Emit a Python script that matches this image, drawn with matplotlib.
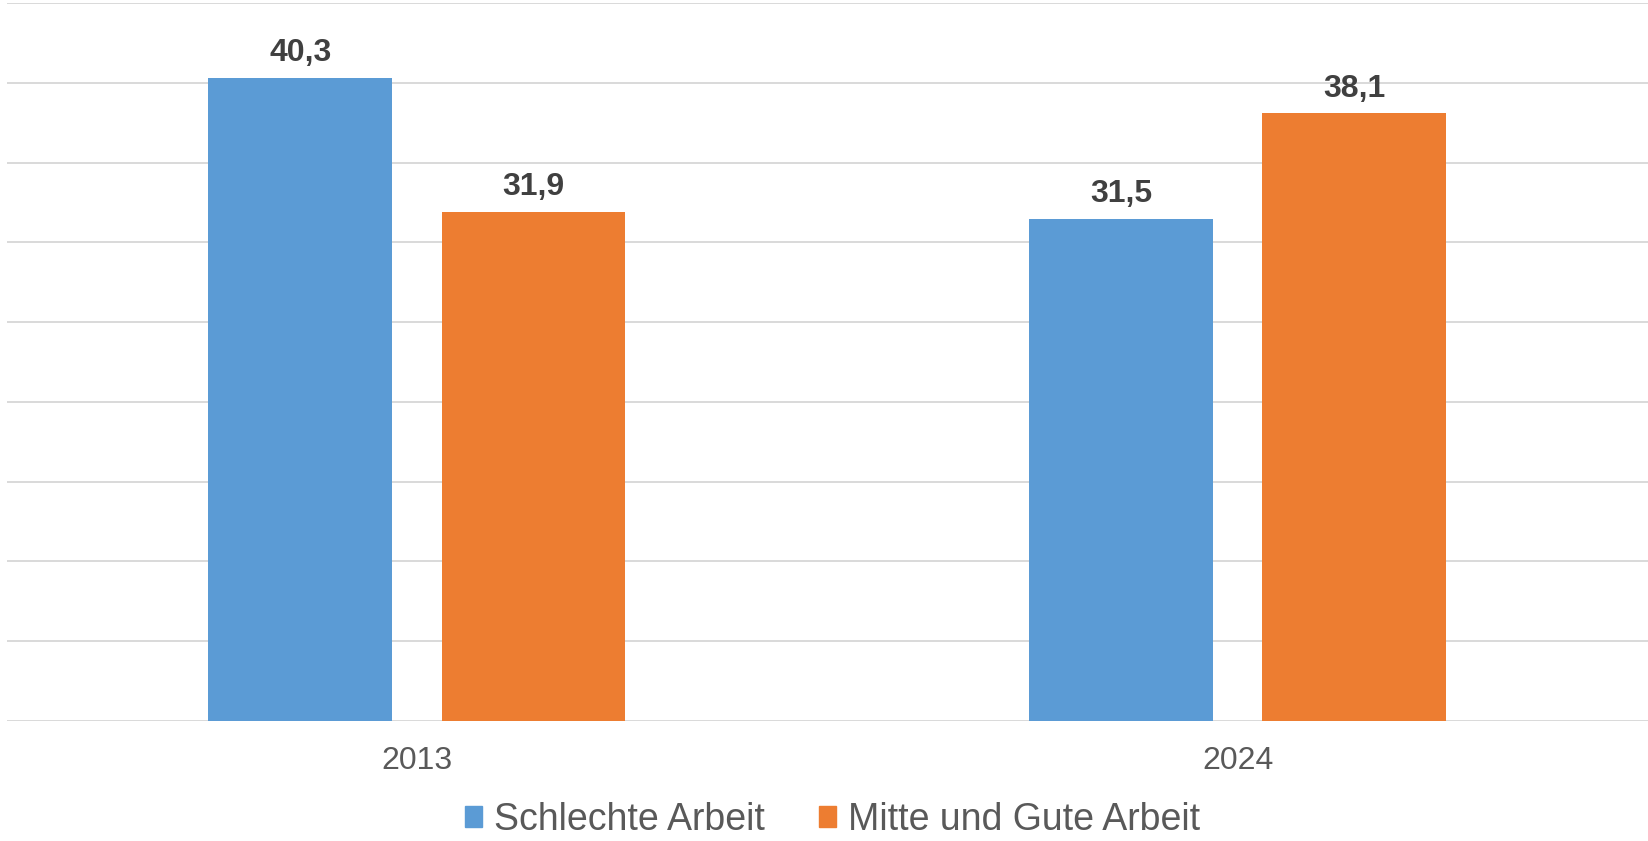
import matplotlib
matplotlib.use('Agg')
import matplotlib.pyplot as plt
from matplotlib.patches import Patch
import numpy as np

plt.rcParams['font.family'] = ['Liberation Sans', 'DejaVu Sans']

# Werte je Jahr
jahre = ['2013', '2024']
schlechte_arbeit = [40.3, 31.5]
mitte_gute_arbeit = [31.9, 38.1]
serien = ['Schlechte Arbeit', 'Mitte und Gute Arbeit']
farben = ['#5B9BD5', '#ED7D31']

fig = plt.figure(figsize=(16.48, 8.41), dpi=100)
ax = fig.add_axes([0.004, 0.1427, 0.996, 0.8535])

x = np.arange(len(jahre))
breite = 0.224
versatz = 0.142

for werte, dx, farbe in [(schlechte_arbeit, -versatz, farben[0]),
                         (mitte_gute_arbeit, versatz, farben[1])]:
    balken = ax.bar(x + dx, werte, width=breite, color=farbe, zorder=3)
    for b, w in zip(balken, werte):
        ax.annotate(f'{w:.1f}'.replace('.', ','),
                    (b.get_x() + b.get_width() / 2, w),
                    xytext=(0, 7), textcoords='offset points',
                    ha='center', va='bottom', fontsize=23,
                    fontweight='bold', color='#404040')

ax.set_xlim(-0.5, 1.5)
ax.set_ylim(0, 45)
ax.set_yticks(np.arange(0, 46, 5))
ax.yaxis.grid(True, color='#D9D9D9', linewidth=1.4, zorder=0)
ax.tick_params(axis='y', left=False, labelleft=False)
ax.set_xticks(x)
ax.set_xticklabels(jahre, fontsize=23, color='#595959')
ax.tick_params(axis='x', length=0, pad=18)
for s in ax.spines.values():
    s.set_visible(False)

handles = [Patch(color=c, label=l) for c, l in zip(farben, serien)]
fig.legend(handles=handles, loc='lower center', bbox_to_anchor=(0.505, -0.036),
           ncol=2, frameon=False, fontsize=27, labelcolor='#595959',
           handlelength=0.47, handleheight=0.47, handletextpad=0.3,
           columnspacing=1.45)

fig.savefig('out.png', dpi=100)
